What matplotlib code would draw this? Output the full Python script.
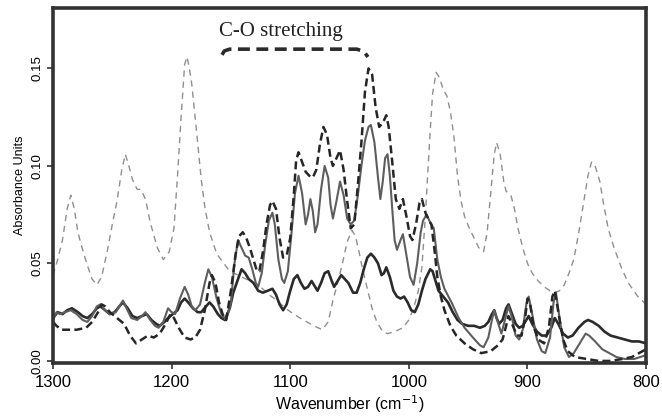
import matplotlib
matplotlib.use("Agg")
import matplotlib.pyplot as plt
import numpy as np

# ---------------- data ----------------
ref_wn = [1300, 1296, 1292, 1288, 1285, 1282, 1279, 1275, 1271, 1267, 1263, 1259, 1254, 1250, 1246, 1242,
          1239, 1236, 1233, 1229, 1226, 1222, 1218, 1212, 1207, 1202, 1198, 1195, 1192, 1189, 1187, 1185,
          1183, 1179, 1175, 1172, 1168, 1162, 1156, 1151, 1144, 1134, 1125, 1118, 1111, 1104, 1097, 1089,
          1080, 1073, 1068, 1064, 1060, 1056, 1052, 1048, 1045, 1042, 1039, 1035, 1031, 1027, 1022, 1018,
          1012, 1005, 1000, 996, 992, 989, 986, 984, 982, 980, 977, 974, 971, 968, 965, 962, 959, 956, 953,
          949, 945, 941, 937, 934, 931, 928, 926, 923, 920, 918, 914, 911, 908, 904, 900, 896, 891, 886,
          881, 877, 873, 869, 865, 861, 857, 853, 849, 846, 843, 839, 836, 832, 827, 821, 815, 807, 800]
ref_abs = [0.044, 0.052, 0.062, 0.078, 0.085, 0.078, 0.066, 0.057, 0.049, 0.042, 0.039, 0.043, 0.057, 0.070,
           0.082, 0.098, 0.106, 0.100, 0.093, 0.088, 0.088, 0.083, 0.071, 0.058, 0.052, 0.056, 0.068, 0.095,
           0.125, 0.152, 0.156, 0.150, 0.142, 0.118, 0.093, 0.079, 0.066, 0.055, 0.050, 0.046, 0.044, 0.041,
           0.038, 0.034, 0.031, 0.027, 0.024, 0.021, 0.018, 0.016, 0.020, 0.031, 0.040, 0.050, 0.061, 0.067,
           0.064, 0.056, 0.047, 0.037, 0.027, 0.020, 0.015, 0.014, 0.015, 0.017, 0.021, 0.027, 0.036, 0.048,
           0.075, 0.097, 0.118, 0.137, 0.148, 0.145, 0.139, 0.136, 0.128, 0.115, 0.095, 0.082, 0.074, 0.068,
           0.063, 0.058, 0.056, 0.066, 0.086, 0.106, 0.112, 0.106, 0.092, 0.087, 0.085, 0.078, 0.068, 0.058,
           0.050, 0.045, 0.041, 0.038, 0.036, 0.035, 0.036, 0.039, 0.045, 0.052, 0.065, 0.080, 0.095, 0.102,
           0.100, 0.092, 0.081, 0.068, 0.058, 0.048, 0.040, 0.033, 0.029]

dash_wn = [1300, 1297, 1293, 1288, 1280, 1272, 1267, 1262, 1259, 1256, 1252, 1246, 1240, 1235, 1230, 1225,
           1220, 1215, 1210, 1205, 1201, 1198, 1194, 1189, 1184, 1180, 1176, 1172, 1168, 1166, 1163, 1160,
           1157, 1154, 1150, 1146, 1143, 1140, 1137, 1134, 1131, 1128, 1126, 1123, 1120, 1117, 1115, 1112,
           1109, 1106, 1103, 1100, 1097, 1095, 1093, 1090, 1087, 1084, 1081, 1078, 1075, 1072, 1069, 1066,
           1064, 1061, 1058, 1055, 1052, 1049, 1046, 1043, 1040, 1037, 1034, 1031, 1028, 1025, 1022, 1019,
           1017, 1014, 1011, 1008, 1005, 1002, 999, 997, 994, 991, 989, 986, 983, 981, 978, 976, 973, 970,
           965, 960, 953, 946, 939, 931, 925, 921, 918, 916, 913, 909, 905, 902, 900, 898, 895, 891, 886,
           882, 879, 877, 874, 870, 866, 860, 850, 840, 830, 820, 812, 806, 800]
dash_abs = [0.020, 0.018, 0.016, 0.016, 0.016, 0.017, 0.020, 0.025, 0.029, 0.028, 0.025, 0.022, 0.019, 0.013,
            0.009, 0.011, 0.013, 0.012, 0.014, 0.019, 0.024, 0.022, 0.017, 0.012, 0.011, 0.012, 0.016, 0.026,
            0.040, 0.044, 0.040, 0.030, 0.024, 0.021, 0.036, 0.055, 0.064, 0.066, 0.063, 0.058, 0.052, 0.046,
            0.046, 0.056, 0.070, 0.080, 0.082, 0.078, 0.063, 0.053, 0.054, 0.063, 0.085, 0.103, 0.107, 0.102,
            0.097, 0.095, 0.094, 0.098, 0.111, 0.120, 0.116, 0.104, 0.100, 0.104, 0.108, 0.098, 0.082, 0.068,
            0.070, 0.090, 0.112, 0.138, 0.150, 0.147, 0.130, 0.120, 0.122, 0.126, 0.120, 0.102, 0.083, 0.078,
            0.083, 0.074, 0.064, 0.062, 0.070, 0.081, 0.083, 0.076, 0.072, 0.070, 0.055, 0.043, 0.033, 0.026,
            0.018, 0.013, 0.009, 0.006, 0.004, 0.005, 0.008, 0.011, 0.018, 0.023, 0.019, 0.013, 0.013, 0.022,
            0.032, 0.030, 0.018, 0.011, 0.009, 0.017, 0.033, 0.036, 0.025, 0.011, 0.005, 0.002, 0.001, 0.000,
            0.000, 0.001, 0.002, 0.004, 0.006]

gray_wn = [1300, 1297, 1294, 1290, 1285, 1280, 1275, 1271, 1267, 1263, 1260, 1256, 1252, 1247, 1244, 1241,
           1238, 1234, 1229, 1225, 1222, 1218, 1214, 1211, 1207, 1203, 1200, 1197, 1193, 1189, 1186, 1183,
           1180, 1176, 1172, 1169, 1166, 1162, 1158, 1154, 1150, 1147, 1144, 1141, 1138, 1135, 1132, 1129,
           1127, 1124, 1121, 1118, 1115, 1113, 1110, 1107, 1105, 1102, 1099, 1096, 1093, 1090, 1087, 1085,
           1083, 1081, 1079, 1077, 1074, 1071, 1068, 1066, 1064, 1061, 1058, 1055, 1052, 1049, 1046, 1043,
           1040, 1037, 1034, 1032, 1029, 1026, 1024, 1022, 1020, 1018, 1016, 1014, 1012, 1010, 1007, 1005,
           1002, 999, 996, 993, 990, 988, 985, 982, 979, 976, 973, 970, 964, 958, 953, 946, 940, 937, 933,
           930, 928, 925, 922, 919, 916, 913, 910, 907, 904, 901, 899, 896, 892, 888, 885, 881, 878, 876,
           873, 869, 865, 861, 856, 851, 848, 843, 837, 831, 825, 818, 810, 805, 800]
gray_abs = [0.021, 0.025, 0.024, 0.025, 0.026, 0.024, 0.021, 0.020, 0.023, 0.028, 0.029, 0.026, 0.024, 0.025,
            0.028, 0.031, 0.027, 0.022, 0.021, 0.023, 0.025, 0.021, 0.018, 0.017, 0.020, 0.027, 0.025, 0.024,
            0.032, 0.038, 0.034, 0.028, 0.026, 0.029, 0.040, 0.047, 0.043, 0.032, 0.024, 0.021, 0.030, 0.050,
            0.062, 0.058, 0.054, 0.053, 0.047, 0.040, 0.038, 0.045, 0.060, 0.072, 0.076, 0.070, 0.052, 0.042,
            0.040, 0.046, 0.065, 0.086, 0.095, 0.086, 0.070, 0.075, 0.083, 0.077, 0.066, 0.070, 0.088, 0.100,
            0.094, 0.080, 0.073, 0.082, 0.092, 0.085, 0.073, 0.070, 0.072, 0.085, 0.100, 0.113, 0.120, 0.121,
            0.112, 0.094, 0.083, 0.092, 0.104, 0.106, 0.095, 0.078, 0.062, 0.057, 0.062, 0.065, 0.054, 0.043,
            0.039, 0.050, 0.066, 0.072, 0.075, 0.071, 0.068, 0.052, 0.043, 0.037, 0.030, 0.022, 0.017, 0.012,
            0.008, 0.007, 0.012, 0.021, 0.026, 0.020, 0.014, 0.021, 0.028, 0.022, 0.013, 0.011, 0.016, 0.029,
            0.033, 0.024, 0.011, 0.005, 0.004, 0.012, 0.030, 0.035, 0.022, 0.007, 0.002, 0.004, 0.009, 0.014,
            0.013, 0.010, 0.006, 0.004, 0.002, 0.001, 0.001, 0.002, 0.003]

black_wn = [1300, 1296, 1292, 1288, 1284, 1279, 1275, 1271, 1267, 1263, 1260, 1256, 1252, 1248, 1244, 1241,
            1237, 1233, 1229, 1225, 1221, 1217, 1213, 1210, 1206, 1203, 1199, 1195, 1192, 1189, 1186, 1182,
            1178, 1175, 1171, 1168, 1165, 1161, 1158, 1155, 1151, 1148, 1144, 1141, 1138, 1135, 1131, 1127,
            1123, 1119, 1115, 1112, 1109, 1106, 1103, 1100, 1097, 1094, 1091, 1088, 1085, 1082, 1079, 1077,
            1074, 1071, 1068, 1065, 1063, 1060, 1057, 1054, 1051, 1047, 1044, 1041, 1038, 1035, 1032, 1029,
            1026, 1023, 1021, 1019, 1016, 1013, 1010, 1007, 1004, 1001, 998, 995, 992, 989, 986, 982, 980,
            977, 975, 971, 967, 963, 959, 955, 950, 945, 940, 936, 933, 930, 928, 926, 924, 921, 918, 916,
            913, 910, 907, 904, 901, 899, 896, 892, 888, 884, 880, 877, 874, 870, 866, 862, 857, 852, 849,
            845, 840, 835, 830, 824, 818, 812, 806, 800]
black_abs = [0.022, 0.025, 0.024, 0.026, 0.027, 0.025, 0.023, 0.022, 0.024, 0.027, 0.028, 0.026, 0.024, 0.025,
             0.028, 0.030, 0.027, 0.023, 0.022, 0.023, 0.024, 0.021, 0.019, 0.018, 0.020, 0.022, 0.024, 0.026,
             0.030, 0.032, 0.030, 0.027, 0.025, 0.025, 0.028, 0.030, 0.028, 0.024, 0.022, 0.021, 0.027, 0.035,
             0.042, 0.047, 0.045, 0.042, 0.040, 0.036, 0.035, 0.036, 0.037, 0.034, 0.029, 0.026, 0.029, 0.036,
             0.042, 0.044, 0.040, 0.037, 0.038, 0.041, 0.038, 0.036, 0.040, 0.045, 0.046, 0.041, 0.038, 0.041,
             0.044, 0.042, 0.040, 0.035, 0.035, 0.040, 0.047, 0.053, 0.055, 0.053, 0.050, 0.044, 0.045, 0.048,
             0.043, 0.036, 0.033, 0.032, 0.033, 0.030, 0.026, 0.025, 0.029, 0.036, 0.042, 0.047, 0.046, 0.040,
             0.036, 0.033, 0.030, 0.025, 0.021, 0.019, 0.018, 0.018, 0.017, 0.018, 0.020, 0.024, 0.026, 0.022,
             0.019, 0.021, 0.027, 0.029, 0.024, 0.019, 0.017, 0.018, 0.021, 0.023, 0.019, 0.015, 0.013, 0.013,
             0.017, 0.022, 0.019, 0.014, 0.012, 0.013, 0.017, 0.020, 0.021, 0.020, 0.018, 0.015, 0.013, 0.012,
             0.011, 0.010, 0.010, 0.009]

x_ticks = [1300, 1200, 1100, 1000, 900, 800]
y_ticks = [0.00, 0.05, 0.10, 0.15]
annotation_text = "C-O stretching"

# ---------------- figure ----------------
fig = plt.figure(figsize=(6.62, 4.20), dpi=100)
ax = fig.add_axes([0.080, 0.136, 0.896, 0.845])

ax.plot(ref_wn, ref_abs, color="#8f8f8f", lw=1.0, linestyle=(0, (4.5, 3.5)))
ax.plot(black_wn, black_abs, color="#2b2b2b", lw=1.9, solid_joinstyle="round")
ax.plot(gray_wn, gray_abs, color="#5e5e5e", lw=1.5, solid_joinstyle="round")
ax.plot(dash_wn, dash_abs, color="#262626", lw=1.8, linestyle=(0, (3.2, 1.7)))

ax.set_xlim(1300, 800)
ax.set_ylim(-0.001, 0.181)
ax.set_xticks(x_ticks)
ax.set_xticklabels([str(t) for t in x_ticks], fontsize=12, family="Liberation Sans")
ax.set_yticks(y_ticks)
ax.set_yticklabels([f"{t:.2f}" for t in y_ticks], fontsize=9.5, family="Liberation Sans",
                   rotation=90, va="center")
ax.tick_params(axis="both", direction="out", length=4, width=1.2, color="#333333", pad=3)
ax.tick_params(axis="x", pad=5)

for s in ax.spines.values():
    s.set_linewidth(2.6)
    s.set_color("#333333")

ax.set_xlabel("Wavenumber (cm$^{-1}$)", fontsize=11.5, family="Liberation Sans", labelpad=2)
ax.set_ylabel("Absorbance Units", fontsize=9, family="Liberation Sans", labelpad=4)

# annotation: text and dashed bracket (axes fraction coords)
ax.text(0.385, 0.933, annotation_text, transform=ax.transAxes, fontsize=15,
        family="Liberation Serif", ha="center", va="center", color="#222222")
bx = [0.285, 0.289, 0.298, 0.512, 0.524, 0.531]
by = [0.868, 0.879, 0.884, 0.884, 0.878, 0.862]
ax.plot(bx, by, transform=ax.transAxes, color="#2a2a2a", lw=2.6,
        linestyle=(0, (3.3, 1.8)), solid_capstyle="round", clip_on=False)

fig.savefig("out.png", dpi=100)
